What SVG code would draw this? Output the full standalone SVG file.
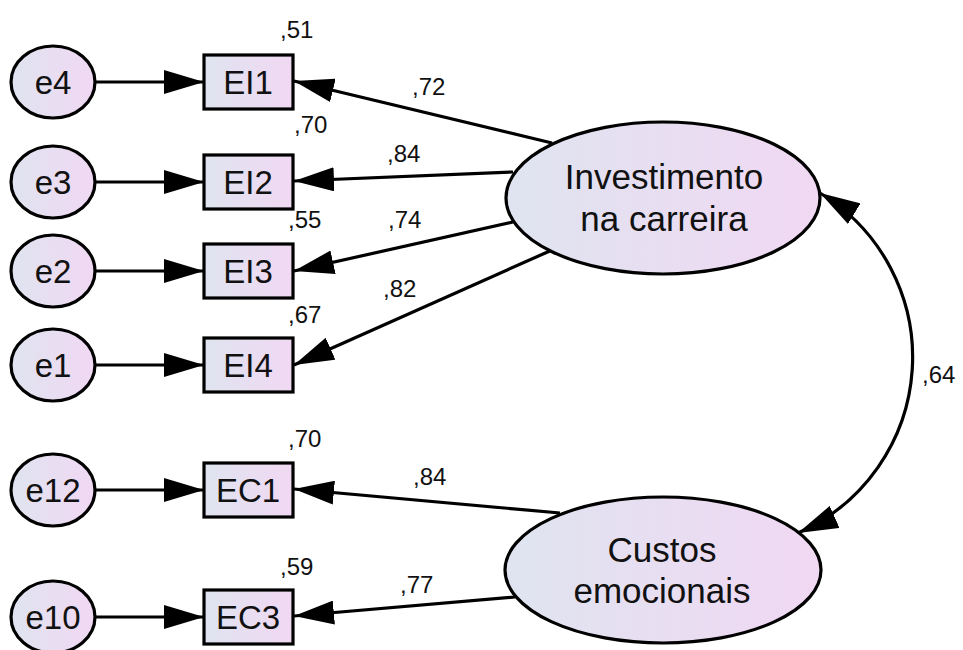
<svg xmlns="http://www.w3.org/2000/svg" width="963" height="650" viewBox="0 0 963 650">
<defs>
<linearGradient id="g" x1="0" y1="0" x2="1" y2="0">
<stop offset="0" stop-color="#dfe4f0"/>
<stop offset="1" stop-color="#f1d8f3"/>
</linearGradient>
<marker id="ah" markerUnits="userSpaceOnUse" markerWidth="40" markerHeight="24" viewBox="0 0 40 24" refX="40" refY="12" orient="auto-start-reverse">
<path d="M0,0 L40,12 L0,24 z" fill="#000"/>
</marker>
<style>
.n{fill:url(#g);stroke:#000;stroke-width:3.2}
.t{font-family:"Liberation Sans",Arial,sans-serif;fill:#111;text-anchor:middle}
.big{font-size:35px}
.mid{font-size:33px}
.c{font-family:"Liberation Sans",Arial,sans-serif;fill:#111;font-size:24px}
.l{stroke:#000;stroke-width:3.2;fill:none;marker-end:url(#ah)}
.cv{stroke:#000;stroke-width:3.2;fill:none;marker-start:url(#ah);marker-end:url(#ah)}
</style>
</defs>
<rect width="963" height="650" fill="#fff"/>
<g id="connectors">
<line class="l" x1="95" y1="82" x2="204" y2="82"/>
<line class="l" x1="95" y1="182" x2="204" y2="182"/>
<line class="l" x1="95" y1="271" x2="204" y2="271"/>
<line class="l" x1="95" y1="365" x2="204" y2="365"/>
<line class="l" x1="95" y1="490" x2="204" y2="490"/>
<line class="l" x1="95" y1="617" x2="204" y2="617"/>
<line class="l" x1="552" y1="143" x2="294" y2="81"/>
<line class="l" x1="513" y1="172" x2="294" y2="181"/>
<line class="l" x1="513" y1="222" x2="294" y2="271"/>
<line class="l" x1="552" y1="250" x2="294" y2="365"/>
<line class="l" x1="560" y1="513" x2="294" y2="489"/>
<line class="l" x1="515" y1="597" x2="294" y2="616"/>
<path class="cv" d="M820,193 A192,192 0 0 1 798,533"/>
</g>
<g id="e4"><ellipse class="n" cx="53" cy="82" rx="42" ry="36"/><text class="t mid" x="53" y="94">e4</text></g>
<g id="e3"><ellipse class="n" cx="53" cy="182" rx="42" ry="36"/><text class="t mid" x="53" y="194">e3</text></g>
<g id="e2"><ellipse class="n" cx="53" cy="271" rx="42" ry="36"/><text class="t mid" x="53" y="283">e2</text></g>
<g id="e1"><ellipse class="n" cx="53" cy="365" rx="42" ry="36"/><text class="t mid" x="53" y="377">e1</text></g>
<g id="e12"><ellipse class="n" cx="53" cy="490" rx="42" ry="36"/><text class="t mid" x="53" y="502">e12</text></g>
<g id="e10"><ellipse class="n" cx="53" cy="617" rx="42" ry="36"/><text class="t mid" x="53" y="629">e10</text></g>
<g id="EI1"><rect class="n" x="204" y="55" width="89" height="54"/><text class="t mid" x="248" y="94">EI1</text></g>
<g id="EI2"><rect class="n" x="204" y="155" width="89" height="54"/><text class="t mid" x="248" y="194">EI2</text></g>
<g id="EI3"><rect class="n" x="204" y="244" width="89" height="54"/><text class="t mid" x="248" y="283">EI3</text></g>
<g id="EI4"><rect class="n" x="204" y="338" width="89" height="54"/><text class="t mid" x="248" y="377">EI4</text></g>
<g id="EC1"><rect class="n" x="204" y="463" width="89" height="54"/><text class="t mid" x="248" y="502">EC1</text></g>
<g id="EC3"><rect class="n" x="204" y="590" width="89" height="54"/><text class="t mid" x="248" y="629">EC3</text></g>
<g id="investimento"><ellipse class="n" cx="663" cy="198" rx="157" ry="76"/><text class="t big" x="664" y="189">Investimento</text><text class="t big" x="664" y="231">na carreira</text></g>
<g id="custos"><ellipse class="n" cx="663" cy="570" rx="158" ry="73"/><text class="t big" x="662" y="562">Custos</text><text class="t big" x="662" y="603">emocionais</text></g>
<g id="labels">
<text class="c" x="280" y="38">,51</text>
<text class="c" x="412" y="95">,72</text>
<text class="c" x="294" y="133">,70</text>
<text class="c" x="387" y="162">,84</text>
<text class="c" x="288" y="228">,55</text>
<text class="c" x="388" y="228">,74</text>
<text class="c" x="383" y="297">,82</text>
<text class="c" x="288" y="323">,67</text>
<text class="c" x="288" y="447">,70</text>
<text class="c" x="413" y="485">,84</text>
<text class="c" x="280" y="575">,59</text>
<text class="c" x="400" y="593">,77</text>
<text class="c" x="922" y="383">,64</text>
</g>
</svg>
